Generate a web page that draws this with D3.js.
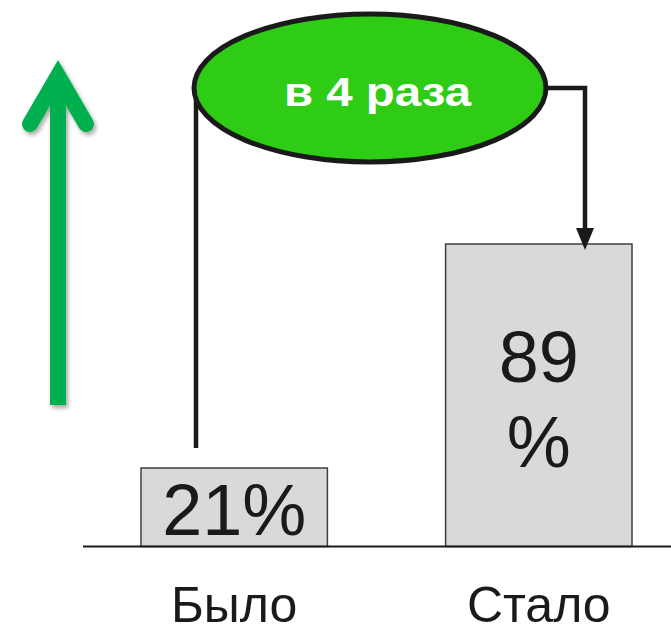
<!DOCTYPE html>
<html><head><meta charset="utf-8">
<script src="https://cdn.jsdelivr.net/npm/d3@7"></script>
<style>html,body{margin:0;padding:0;background:#fff}svg{display:block}</style>
</head><body>
<script>
const categories = ["Было", "Стало"];
const values = [21, 89];
const valueLabels = [["21%"], ["89", "%"]];
const ratioLabel = "в 4 раза";

const W = 671, H = 633;
const svg = d3.select("body").append("svg").attr("width", W).attr("height", H);
const defs = svg.append("defs");
const f = defs.append("filter").attr("id","sh").attr("x","-50%").attr("y","-10%").attr("width","200%").attr("height","120%");
f.append("feDropShadow").attr("dx",2).attr("dy",3).attr("stdDeviation",2).attr("flood-color","#000").attr("flood-opacity",0.35);

const baseY = 546.5;
const x = d3.scaleBand().domain(categories).range([141, 632]).paddingInner(0.388).paddingOuter(0);
const y = d3.scaleLinear().domain([21, 89]).range([468, 244]);
const font = "'Liberation Sans', Arial, sans-serif";

// bars
svg.selectAll("rect.bar").data(categories).join("rect").attr("class","bar")
  .attr("x", d => x(d)).attr("width", x.bandwidth())
  .attr("y", (d,i) => y(values[i])).attr("height", (d,i) => baseY - y(values[i]))
  .attr("fill", "#d9d9d9").attr("stroke", "#3f3f3f").attr("stroke-width", 1.5);

// baseline
svg.append("line").attr("x1", 83).attr("x2", 671).attr("y1", baseY).attr("y2", baseY)
  .attr("stroke", "#1a1a1a").attr("stroke-width", 2);

// value labels
const vl = svg.selectAll("text.val").data(categories).join("text").attr("class","val")
  .attr("text-anchor","middle").attr("font-family", font).attr("font-size", 72).attr("fill","#1a1a1a");
vl.each(function(d,i){
  const t = d3.select(this);
  const lines = valueLabels[i];
  const cx = x(d) + x.bandwidth()/2;
  const top = y(values[i]);
  const baselines = lines.length === 1 ? [baseY - 12] : [top + 138, top + 223];
  lines.forEach((s,j) => t.append("tspan").attr("x", cx).attr("y", baselines[j]).text(s));
});

// category labels
svg.selectAll("text.cat").data(categories).join("text").attr("class","cat")
  .attr("x", d => x(d) + x.bandwidth()/2).attr("y", 622)
  .attr("text-anchor","middle").attr("font-family", font).attr("font-size", 50).attr("fill","#1a1a1a")
  .text(d => d);

// connectors
const ex = 370, ey = 88, rx = 176, ry = 74;
const lx = 196, rxEnd = 585;
svg.append("line").attr("x1", lx).attr("x2", lx).attr("y1", ey).attr("y2", 448)
  .attr("stroke","#1a1a1a").attr("stroke-width",4.5);
svg.append("path").attr("d", `M${ex+rx},${ey}H${rxEnd}V${y(values[1]) - 14}`)
  .attr("fill","none").attr("stroke","#1a1a1a").attr("stroke-width",4.5);
svg.append("path").attr("d", `M${rxEnd-9},${y(values[1]) - 16}L${rxEnd+9},${y(values[1]) - 16}L${rxEnd},${y(values[1]) + 6}Z`)
  .attr("fill","#1a1a1a");

// ellipse
svg.append("ellipse").attr("cx", ex).attr("cy", ey).attr("rx", rx).attr("ry", ry)
  .attr("fill","#2ecc14").attr("stroke","#1a1a1a").attr("stroke-width",5);
svg.append("text").attr("x", 284).attr("y", 106)
  .attr("font-family", font).attr("font-weight","bold").attr("font-size", 41).attr("fill","#fff")
  .attr("textLength", 187).attr("lengthAdjust", "spacingAndGlyphs")
  .text(ratioLabel);

// green arrow
const g = svg.append("g").attr("filter","url(#sh)");
g.append("line").attr("x1",58).attr("x2",58).attr("y1",405).attr("y2",78)
  .attr("stroke","#00b050").attr("stroke-width",16);
g.append("polyline").attr("points","30,124 58,76 86,124").attr("fill","none")
  .attr("stroke","#00b050").attr("stroke-width",16).attr("stroke-linecap","round").attr("stroke-linejoin","miter");
</script>
</body></html>
